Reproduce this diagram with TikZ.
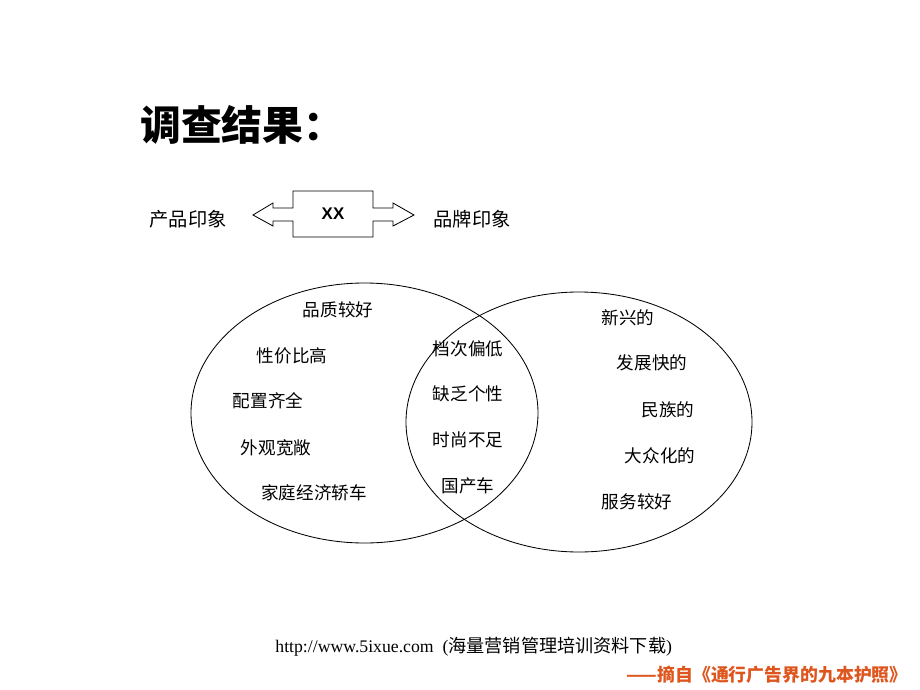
\documentclass[tikz,border=0pt]{standalone}
\usepackage{fontspec}
\setmainfont{Liberation Serif}
\newfontfamily\cjk{Noto Sans CJK SC}
\newfontfamily\xxfont{Liberation Sans}
\usetikzlibrary{calc}
\definecolor{notered}{RGB}{222,86,30}

\begin{document}
\begin{tikzpicture}[x=0.025cm,y=-0.025cm,line width=0.6pt]

      \useasboundingbox (0,0) rectangle (920,690);

      % title
      \node[anchor=west,inner sep=0] (title) at (140,125)
        {\cjk\bfseries\fontsize{29}{32}\selectfont 调查结果：};

      % the box with its two arrows
      \node[inner sep=0,outer sep=0,minimum width=2cm,minimum height=1.15cm] (xx) at (333,214)
        {\xxfont\bfseries\fontsize{12}{14}\selectfont XX};
      \draw (xx.north west) -- (xx.north east) -- ++(0,17) -- ++(20,0) -- ++(0,-5)
        -- ++(21,12) -- ++(-21,11) -- ++(0,-5) -- ++(-20,0) -- (xx.south east)
        -- (xx.south west) -- ++(0,-16) -- ++(-20,0) -- ++(0,5) -- ++(-20,-11)
        -- ++(20,-12) -- ++(0,5) -- ++(20,0) -- cycle;

      \begin{scope}[every node/.style={font=\cjk\fontsize{13.7}{16}\selectfont}]
        \node (product) at (188,219) {产品印象};
        \node (brand)   at (472,219) {品牌印象};
      \end{scope}

      % the two sets
      \draw (364.5,413) ellipse [x radius=173.5, y radius=130];
      \draw (579,422)   ellipse [x radius=173,   y radius=130];

      \begin{scope}[every node/.style={font=\cjk\fontsize{12.5}{15}\selectfont}]
        \node (good)     at (338,310) {品质较好};
        \node (price)    at (292,356) {性价比高};
        \node (config)   at (268,401) {配置齐全};
        \node (looks)    at (276,448) {外观宽敞};
        \node (family)   at (314,493) {家庭经济轿车};

        \node (low)      at (468,349) {档次偏低};
        \node (plain)    at (468,394) {缺乏个性};
        \node (fashion)  at (468,440) {时尚不足};
        \node (domestic) at (468,486) {国产车};

        \node (new)      at (628,318) {新兴的};
        \node (fast)     at (652,363) {发展快的};
        \node (nation)   at (668,410) {民族的};
        \node (mass)     at (660,456) {大众化的};
        \node (service)  at (637,502) {服务较好};
      \end{scope}

      % source lines
      \node[anchor=west,inner sep=0] (url) at (275,647)
        {\fontsize{12.6}{15}\selectfont http://www.5ixue.com\hspace{0.5em}({\cjk\fontsize{12.9}{15}\selectfont 海量营销管理培训资料下载})};
      \node[anchor=east,inner sep=0,text=notered] (quote) at (908,675)
        {\cjk\bfseries\fontsize{12.7}{15}\selectfont ——摘自《通行广告界的九本护照》};

    \end{tikzpicture}
\end{document}
